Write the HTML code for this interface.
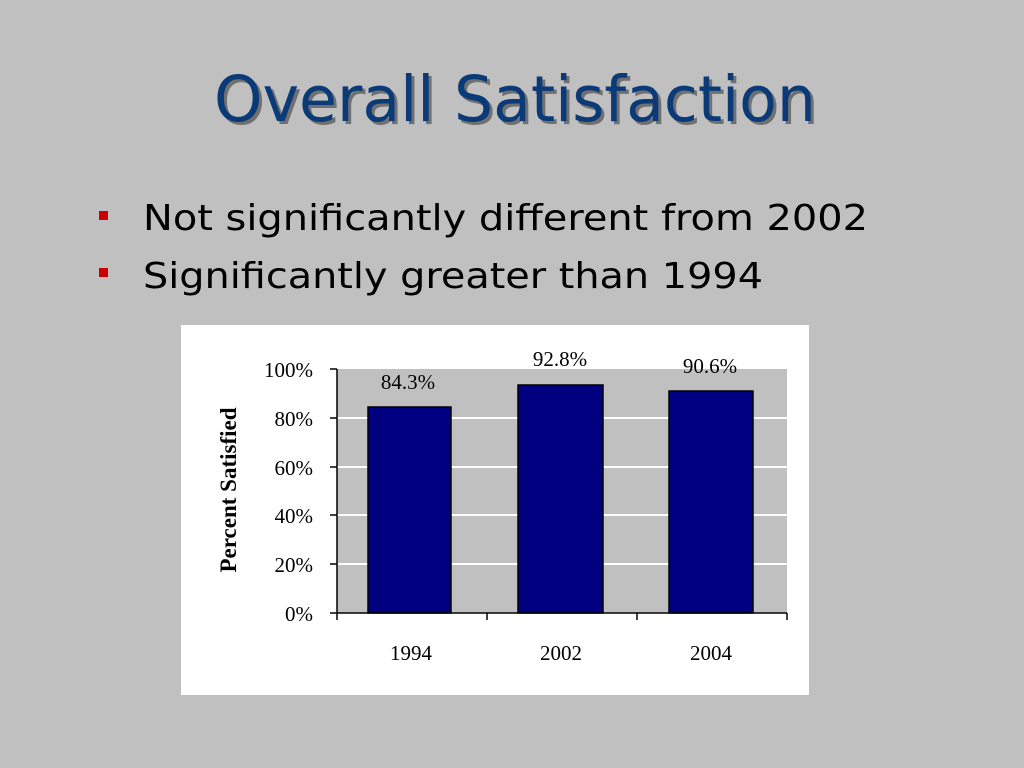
<!DOCTYPE html>
<html><head><style>
body{margin:0;background:#c0c0c0;}
</style></head><body>
<svg width="1024" height="768" xmlns="http://www.w3.org/2000/svg" style="display:block">
<rect width="1024" height="768" fill="#c0c0c0"/>
<g font-family="DejaVu Sans, Verdana, sans-serif">
<text x="217" y="124" font-size="63" fill="#707070" textLength="602" lengthAdjust="spacingAndGlyphs">Overall Satisfaction</text>
<text x="214" y="121" font-size="63" fill="#0a3a78" textLength="602" lengthAdjust="spacingAndGlyphs">Overall Satisfaction</text>
<rect x="99" y="211" width="9" height="9" fill="#cc0000"/>
<rect x="99" y="268" width="9" height="9" fill="#cc0000"/>
<text x="143" y="230" font-size="36" fill="#000" textLength="725" lengthAdjust="spacingAndGlyphs">Not significantly different from 2002</text>
<text x="143" y="288" font-size="36" fill="#000" textLength="620" lengthAdjust="spacingAndGlyphs">Significantly greater than 1994</text>
</g>
<rect x="181" y="325" width="628" height="370" fill="#fff"/>
<rect x="337" y="369" width="450" height="244" fill="#c0c0c0"/>
<g stroke="#fff" stroke-width="2">
<line x1="337" y1="418" x2="787" y2="418"/>
<line x1="337" y1="467" x2="787" y2="467"/>
<line x1="337" y1="515" x2="787" y2="515"/>
<line x1="337" y1="564" x2="787" y2="564"/>
</g>
<g fill="#000080" stroke="#000" stroke-width="1.5">
<rect x="368" y="407" width="83" height="206"/>
<rect x="518" y="385" width="85" height="228"/>
<rect x="669" y="391" width="84" height="222"/>
</g>
<g stroke="#000" stroke-width="1.5">
<line x1="337" y1="369" x2="337" y2="613"/>
<line x1="337" y1="613" x2="787" y2="613"/>
<line x1="330" y1="369" x2="337" y2="369"/>
<line x1="330" y1="418" x2="337" y2="418"/>
<line x1="330" y1="467" x2="337" y2="467"/>
<line x1="330" y1="515" x2="337" y2="515"/>
<line x1="330" y1="564" x2="337" y2="564"/>
<line x1="330" y1="613" x2="337" y2="613"/>
<line x1="337" y1="613" x2="337" y2="620"/>
<line x1="487" y1="613" x2="487" y2="620"/>
<line x1="637" y1="613" x2="637" y2="620"/>
<line x1="787" y1="613" x2="787" y2="620"/>
</g>
<g font-family="Liberation Serif, serif" font-size="21" fill="#000">
<g text-anchor="end">
<text x="313" y="377">100%</text>
<text x="313" y="426">80%</text>
<text x="313" y="475">60%</text>
<text x="313" y="523">40%</text>
<text x="313" y="572">20%</text>
<text x="313" y="621">0%</text>
</g>
<g text-anchor="middle">
<text x="408" y="389">84.3%</text>
<text x="560" y="366">92.8%</text>
<text x="710" y="373">90.6%</text>
<text x="411" y="660">1994</text>
<text x="561" y="660">2002</text>
<text x="711" y="660">2004</text>
<text transform="translate(236,490) rotate(-90)" font-weight="bold" font-size="23">Percent Satisfied</text>
</g>
</g>
</svg>
</body></html>
